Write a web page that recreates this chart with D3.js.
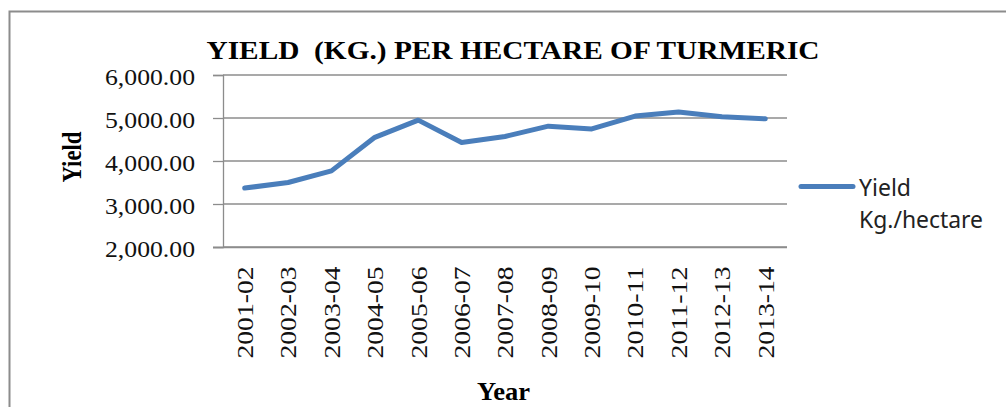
<!DOCTYPE html>
<html>
<head>
<meta charset="utf-8">
<script src="https://cdn.jsdelivr.net/npm/d3@7"></script>
<style>
  body { margin: 0; background: #fff; }
  svg { display: block; }
</style>
</head>
<body>
<div id="chart"></div>
<script>
// Datos
const years = ['2001-02', '2002-03', '2003-04', '2004-05', '2005-06', '2006-07', '2007-08',
               '2008-09', '2009-10', '2010-11', '2011-12', '2012-13', '2013-14'];
const yieldValues = [3370, 3500, 3770, 4550, 4950, 4430, 4570, 4810, 4745, 5045, 5140, 5030, 4980];
const yTicks = [2000, 3000, 4000, 5000, 6000];
const seriesName = ['Yield', 'Kg./hectare'];

const width = 1006;
const height = 407;
const plot = { left: 223, right: 787, top: 75, bottom: 247 };
const blue = '#4a7ebb';
const grid = '#8c8c8c';
const serif = '"Liberation Serif", "Times New Roman", serif';

const svg = d3.select('#chart')
    .append('svg')
    .attr('width', width)
    .attr('height', height);

// Marco exterior (solo se ven los bordes izquierdo y superior)
svg.append('rect')
    .attr('x', 9.5)
    .attr('y', 11.5)
    .attr('width', 1100)
    .attr('height', 500)
    .attr('fill', 'none')
    .attr('stroke', grid)
    .attr('stroke-width', 2);

const x = d3.scalePoint()
    .domain(years)
    .range([plot.left, plot.right])
    .padding(0.5);

const y = d3.scaleLinear()
    .domain([2000, 6000])
    .range([plot.bottom, plot.top]);

// Lineas de cuadricula
svg.append('g')
    .selectAll('line')
    .data(yTicks)
    .enter()
    .append('line')
    .attr('x1', plot.left)
    .attr('x2', plot.right)
    .attr('y1', d => y(d))
    .attr('y2', d => y(d))
    .attr('stroke', grid)
    .attr('stroke-width', 1.3);

// Eje Y
const yAxis = svg.append('g')
    .attr('transform', `translate(${plot.left},0)`)
    .attr('font-family', null)
    .call(d3.axisLeft(y)
        .tickValues(yTicks)
        .tickSize(10)
        .tickPadding(18)
        .tickFormat(d3.format(',.2f')));

yAxis.select('.domain').attr('stroke', grid).attr('stroke-width', 1.3);
yAxis.selectAll('.tick line').attr('stroke', grid).attr('stroke-width', 1.3);
yAxis.selectAll('.tick text')
    .attr('fill', '#111')
    .attr('dy', '0.42em')
    .attr('font-family', serif)
    .style('font-family', serif)
    .style('font-size', '23px')
    .attr('textLength', 90)
    .attr('lengthAdjust', 'spacingAndGlyphs');

// Eje X con etiquetas giradas
const xAxis = svg.append('g')
    .attr('transform', `translate(0,${plot.bottom})`)
    .call(d3.axisBottom(x).tickSize(0).tickSizeOuter(0));

xAxis.select('.domain')
    .attr('d', `M${plot.left - 10},0.5H${plot.right}`)
    .attr('stroke', grid)
    .attr('stroke-width', 1.3);

xAxis.selectAll('.tick text')
    .attr('transform', 'rotate(-90)')
    .attr('x', -19.5)
    .attr('y', 0)
    .attr('dy', '0.34em')
    .attr('text-anchor', 'end')
    .attr('fill', '#111')
    .attr('font-family', serif)
    .style('font-family', serif)
    .style('font-size', '23px')
    .attr('textLength', 92)
    .attr('lengthAdjust', 'spacingAndGlyphs');

// Serie
const line = d3.line()
    .x((d, i) => x(years[i]))
    .y(d => y(d));

svg.append('path')
    .datum(yieldValues)
    .attr('d', line)
    .attr('fill', 'none')
    .attr('stroke', blue)
    .attr('stroke-width', 5)
    .attr('stroke-linejoin', 'round')
    .attr('stroke-linecap', 'round');

// Titulo
svg.append('text')
    .attr('x', 206.5)
    .attr('y', 58.5)
    .attr('fill', '#000')
    .style('font-family', serif)
    .style('font-size', '25px')
    .style('font-weight', 'bold')
    .style('white-space', 'pre')
    .attr('textLength', 613)
    .attr('lengthAdjust', 'spacingAndGlyphs')
    .text('YIELD  (KG.) PER HECTARE OF TURMERIC');

// Titulos de los ejes
svg.append('text')
    .attr('transform', 'translate(81,157) rotate(-90)')
    .attr('text-anchor', 'middle')
    .attr('fill', '#000')
    .style('font-family', serif)
    .style('font-size', '27px')
    .style('font-weight', 'bold')
    .attr('textLength', 51)
    .attr('lengthAdjust', 'spacingAndGlyphs')
    .text('Yield');

svg.append('text')
    .attr('x', 503.5)
    .attr('y', 400)
    .attr('text-anchor', 'middle')
    .attr('fill', '#000')
    .style('font-family', serif)
    .style('font-size', '26px')
    .style('font-weight', 'bold')
    .attr('textLength', 53)
    .attr('lengthAdjust', 'spacingAndGlyphs')
    .text('Year');

// Leyenda
const legend = svg.append('g')
    .attr('transform', 'translate(800,186.5)');

legend.append('line')
    .attr('x1', 1)
    .attr('x2', 53)
    .attr('stroke', blue)
    .attr('stroke-width', 5)
    .attr('stroke-linecap', 'round');

legend.selectAll('text')
    .data(seriesName)
    .enter()
    .append('text')
    .attr('x', 59)
    .attr('y', (d, i) => 9 + i * 32)
    .attr('fill', '#222')
    .style('font-family', '"Noto Sans", "Open Sans", sans-serif')
    .style('font-size', '24px')
    .attr('textLength', (d, i) => i === 0 ? 52 : 124)
    .attr('lengthAdjust', 'spacingAndGlyphs')
    .text(d => d);
</script>
</body>
</html>
